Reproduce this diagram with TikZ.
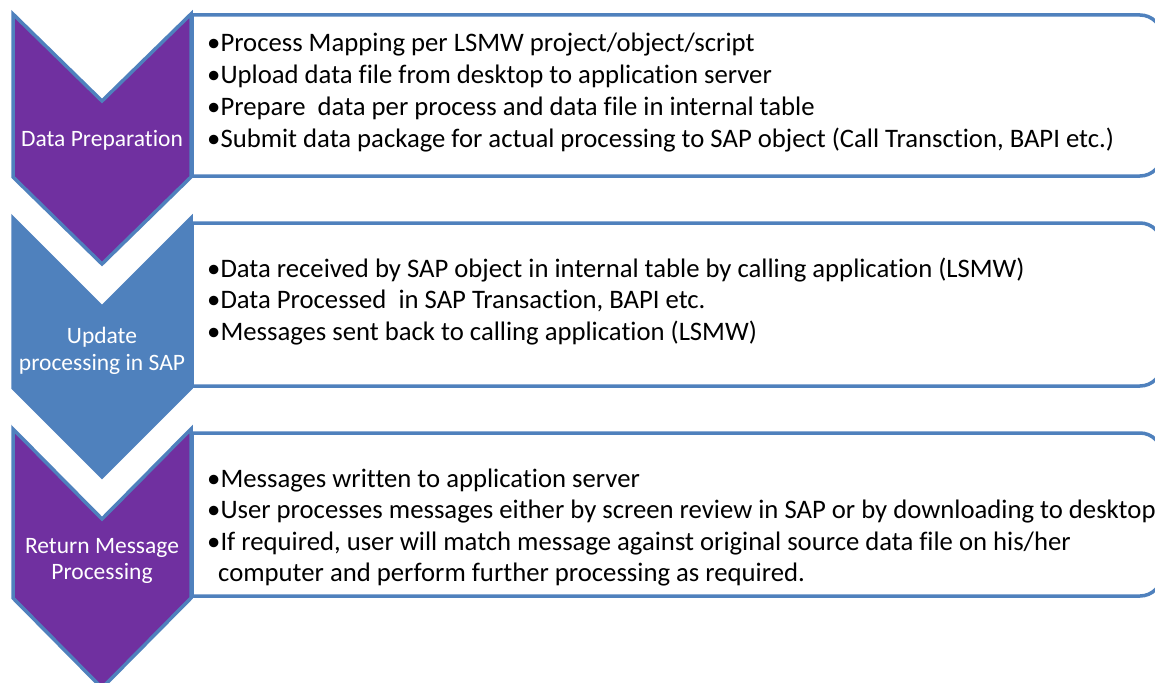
\documentclass[tikz,border=0pt]{standalone}
\usepackage{fontspec}
\setmainfont{Carlito}[Ligatures={NoCommon}]
\definecolor{pur}{HTML}{7030A0}
\definecolor{blu}{HTML}{4F81BD}
\newcommand\sapbox[2]{\draw[boxline] (192,#2) -- (192,#1) -- (1140,#1) .. controls (1152.1,#1) and (1162,#1+9.9) .. (1162,#1+22) -- (1162,#2-22) .. controls (1162,#2-9.9) and (1152.1,#2) .. (1140,#2) -- cycle;}
\newcommand\sapchev[5]{\draw[chev,fill=#5] (13,#1) -- (102,#2) -- (191,#1) -- (191,#3) -- (102,#4) -- (13,#3) -- cycle;}
\begin{document}
\begin{tikzpicture}[x=1pt,y=-1pt,
  boxline/.style={draw=blu,line width=3.5pt,fill=white},
  chev/.style={draw=blu,line width=3.5pt,line join=miter},
  item/.style={anchor=base west,inner sep=0pt,font=\fontsize{26.7}{31}\selectfont},
  lab/.style={anchor=base,inner sep=0pt,text=white,font=\fontsize{23.5}{27}\selectfont}]
\useasboundingbox (0,0) rectangle (1155,682);
\clip (0,0) rectangle (1155,682);
\fill[white] (0,0) rectangle (1155,682);
% boxes
\sapbox{15}{176}
\sapbox{223}{386}
\sapbox{433}{596}
% chevrons
\sapchev{14}{101}{177}{264}{pur}
\sapchev{218}{307}{388}{477}{blu}
\sapchev{429}{519}{598}{688}{pur}
% chevron labels
\node[lab] (l1) at (102,146) {Data Preparation};
\node[lab] (l2a) at (102,343) {Update};
\node[lab] (l2b) at (102,370) {processing in SAP};
\node[lab] (l3a) at (102,553) {Return Message};
\node[lab] (l3b) at (102,579) {Processing};
% box 1
\node[item] (a1) at (207,52) {•Process Mapping per LSMW project/object/script};
\node[item] (a2) at (207,83.5) {•Upload data file from desktop to application server};
\node[item] (a3) at (207,115) {•Prepare~ data per process and data file in internal table};
\node[item] (a4) at (207,147) {•Submit data package for actual processing to SAP object (Call Transction, BAPI etc.)};
% box 2
\node[item] (b1) at (207,277) {•Data received by SAP object in internal table by calling application (LSMW)};
\node[item] (b2) at (207,308.5) {•Data Processed~ in SAP Transaction, BAPI etc.};
\node[item] (b3) at (207,340) {•Messages sent back to calling application (LSMW)};
% box 3
\node[item] (c1) at (207,487) {•Messages written to application server};
\node[item] (c2) at (207,518.5) {•User processes messages either by screen review in SAP or by downloading to desktop};
\node[item] (c3) at (207,550) {•If required, user will match message against original source data file on his/her};
\node[item] (c4) at (218,581) {computer and perform further processing as required.};
\end{tikzpicture}
\end{document}
